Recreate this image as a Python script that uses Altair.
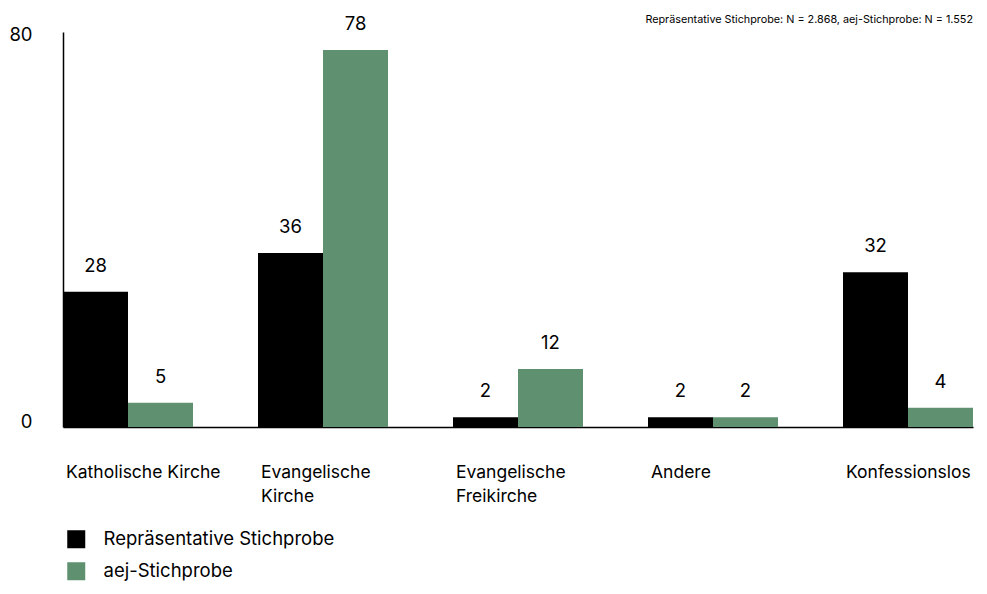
import altair as alt
import pandas as pd

categories = ["Katholische Kirche", "Evangelische|Kirche", "Evangelische|Freikirche", "Andere", "Konfessionslos"]
series = ["Repräsentative Stichprobe", "aej-Stichprobe"]
rep_values = [28, 36, 2, 2, 32]
aej_values = [5, 78, 12, 2, 4]
colors = ["#000000", "#5f9070"]
note = "Repräsentative Stichprobe: N = 2.868, aej-Stichprobe: N = 1.552"

rows = []
for c, r, a in zip(categories, rep_values, aej_values):
    rows.append({"cat": c, "series": series[0], "value": r})
    rows.append({"cat": c, "series": series[1], "value": a})
df = pd.DataFrame(rows)

FONT = "Inter"
FS = 18.5
W, H = 910, 395

x = alt.X("cat:N", sort=categories, title=None,
          scale=alt.Scale(paddingInner=1/3, paddingOuter=0, round=False),
          axis=alt.Axis(labelAngle=0, labelAlign="left", labelOffset=-62, labelPadding=36,
                        labelExpr="split(datum.value, '|')", labelLineHeight=24,
                        labelFontSize=17.5, labelColor="#000", labelFont=FONT,
                        ticks=False, domainColor="#000", domainWidth=1.5, labelLimit=300))
xo = alt.XOffset("series:N", sort=series, scale=alt.Scale(round=False))
y = alt.Y("value:Q", title=None,
          scale=alt.Scale(domain=[0, 81.7], nice=False, round=False),
          axis=alt.Axis(values=[0, 80], grid=False, ticks=False, labelPadding=31,
                        labelFontSize=FS, labelColor="#000", labelFont=FONT,
                        domainColor="#000", domainWidth=1.5, labelBaseline="bottom", labelOffset=4))

base = alt.Chart(df)
bars = base.mark_bar().encode(
    x=x, xOffset=xo, y=y,
    color=alt.Color("series:N", sort=series, scale=alt.Scale(domain=series, range=colors),
                    legend=alt.Legend(title=None, orient="none", legendX=4, legendY=498,
                                      direction="vertical", symbolType="square", symbolSize=324,
                                      symbolStrokeWidth=0, labelFontSize=FS, labelFont=FONT,
                                      labelColor="#000", labelOffset=18, rowPadding=13,
                                      labelLimit=400)),
)
labels = base.mark_text(baseline="bottom", dy=-16, fontSize=FS, font=FONT, color="#000").encode(
    x=alt.X("cat:N", sort=categories), xOffset=xo, y="value:Q", text="value:Q"
)
note_mark = alt.Chart(pd.DataFrame({"t": [note]})).mark_text(
    align="right", baseline="middle", fontSize=10.8, font=FONT, color="#000"
).encode(x=alt.value(W), y=alt.value(-12), text="t:N")

chart = alt.layer(bars, labels, note_mark).properties(
    width=W, height=H,
    autosize=alt.AutoSizeParams(type="none"),
    padding={"left": 55, "top": 24, "right": 5, "bottom": 158},
).configure_view(stroke=None)

chart.save("out.html", embed_options={"renderer": "svg", "actions": False})
